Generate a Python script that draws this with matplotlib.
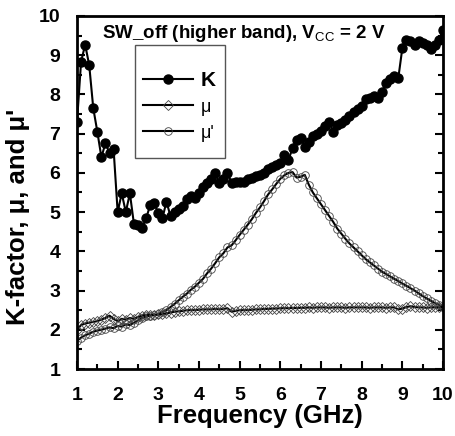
import matplotlib
matplotlib.use("Agg")
import matplotlib.pyplot as plt
from matplotlib.patches import Rectangle
import numpy as np

plt.rcParams['font.family'] = ['Liberation Sans', 'DejaVu Sans']
plt.rcParams['mathtext.fontset'] = 'custom'
plt.rcParams['mathtext.rm'] = 'Liberation Sans'
plt.rcParams['mathtext.bf'] = 'Liberation Sans:bold'
plt.rcParams['mathtext.it'] = 'Liberation Sans:italic'

freq = [round(1.0 + 0.1 * i, 1) for i in range(91)]

k_factor = [
    7.30, 8.83, 9.27, 8.75, 7.65, 7.05, 6.40, 6.76, 6.50, 6.60,
    5.00, 5.48, 5.00, 5.48, 4.70, 4.68, 4.60, 4.84, 5.18, 5.22,
    4.97, 4.84, 5.27, 4.89, 5.01, 5.07, 5.16, 5.33, 5.40, 5.35,
    5.48, 5.65, 5.73, 5.85, 5.99, 5.75, 5.84, 6.00, 5.75, 5.78,
    5.78, 5.78, 5.84, 5.88, 5.91, 5.95, 5.99, 6.09, 6.16, 6.20,
    6.24, 6.46, 6.33, 6.63, 6.85, 6.90, 6.67, 6.80, 6.93, 7.00,
    7.08, 7.20, 7.31, 7.05, 7.22, 7.26, 7.35, 7.45, 7.56, 7.62,
    7.70, 7.88, 7.92, 7.95, 7.90, 8.07, 8.30, 8.40, 8.46, 8.41,
    9.18, 9.39, 9.35, 9.27, 9.35, 9.30, 9.27, 9.15, 9.27, 9.39,
    9.65,
]

mu = [
    2.00, 2.12, 2.16, 2.18, 2.20, 2.22, 2.26, 2.30, 2.36, 2.28,
    2.22, 2.28, 2.26, 2.30, 2.28, 2.32, 2.36, 2.38, 2.38, 2.38,
    2.39, 2.40, 2.42, 2.44, 2.46, 2.47, 2.48, 2.50, 2.50, 2.50,
    2.51, 2.52, 2.52, 2.52, 2.53, 2.52, 2.53, 2.55, 2.46, 2.48,
    2.50, 2.50, 2.50, 2.51, 2.52, 2.52, 2.53, 2.53, 2.54, 2.54,
    2.55, 2.55, 2.55, 2.56, 2.55, 2.56, 2.56, 2.57, 2.56, 2.57,
    2.57, 2.57, 2.56, 2.57, 2.57, 2.57, 2.56, 2.57, 2.57, 2.57,
    2.57, 2.57, 2.56, 2.57, 2.57, 2.57, 2.56, 2.57, 2.57, 2.52,
    2.54, 2.58, 2.60, 2.58, 2.57, 2.57, 2.56, 2.57, 2.57, 2.57,
    2.57,
]

mu_prime = [
    1.72, 1.80, 1.86, 1.90, 1.95, 1.98, 2.00, 2.03, 2.06, 2.04,
    2.10, 2.08, 2.14, 2.12, 2.18, 2.24, 2.30, 2.34, 2.36, 2.37,
    2.40, 2.45, 2.50, 2.58, 2.66, 2.75, 2.84, 2.92, 3.02, 3.10,
    3.20, 3.30, 3.44, 3.56, 3.70, 3.85, 3.95, 4.10, 4.15, 4.28,
    4.42, 4.55, 4.68, 4.82, 4.98, 5.12, 5.28, 5.45, 5.58, 5.72,
    5.85, 5.94, 6.00, 6.02, 5.88, 5.90, 5.95, 5.70, 5.50, 5.35,
    5.20, 5.05, 4.90, 4.75, 4.58, 4.45, 4.32, 4.20, 4.10, 4.00,
    3.90, 3.80, 3.72, 3.64, 3.56, 3.48, 3.42, 3.36, 3.30, 3.24,
    3.18, 3.12, 3.06, 3.00, 2.93, 2.86, 2.80, 2.74, 2.68, 2.63,
    2.58,
]

x_ticks = [1, 2, 3, 4, 5, 6, 7, 8, 9, 10]
y_ticks = [1, 2, 3, 4, 5, 6, 7, 8, 9, 10]

fig = plt.figure(figsize=(4.56, 4.36), dpi=100)
ax = fig.add_axes([77/456, 1-369/436, 366/456, 353/436])

ax.plot(freq, mu_prime, '-', color='black', lw=1.5, marker='o', ms=5.5,
        mfc='none', mec='#444444', mew=0.6, label="\u03bc'", zorder=2)
ax.plot(freq, mu, '-', color='black', lw=1.5, marker='D', ms=5,
        mfc='none', mec='#444444', mew=0.6, label='\u03bc', zorder=2)
ax.plot(freq, k_factor, '-', color='black', lw=1.5, marker='o', ms=6.5,
        mfc='black', mec='black', label='K', zorder=3)

ax.set_xlim(1, 10)
ax.set_ylim(1, 10)
ax.set_xticks(x_ticks)
ax.set_yticks(y_ticks)
ax.set_xticks(np.arange(1.5, 10, 1.0), minor=True)
ax.set_yticks(np.arange(1.5, 10, 1.0), minor=True)
ax.tick_params(which='both', direction='in', top=False, right=True, width=1.5)
ax.tick_params(which='major', length=6, labelsize=14)
ax.tick_params(axis='x', which='major', pad=13)
ax.tick_params(axis='y', which='major', pad=12)
ax.tick_params(which='minor', length=3.5)
for lab in ax.get_xticklabels() + ax.get_yticklabels():
    lab.set_fontweight('bold')
for sp in ax.spines.values():
    sp.set_linewidth(2)

ax.set_xlabel('Frequency (GHz)', fontsize=18.5, fontweight='bold')
ax.set_ylabel("K-factor, \u03bc, and \u03bc'", fontsize=18.5, fontweight='bold')
ax.xaxis.set_label_coords(0.5, -0.098)
ax.yaxis.set_label_coords(-0.128, 0.43)

ax.text(1.62, 9.56, r"SW_off (higher band), V$_{\mathrm{CC}}$ = 2 V",
        fontsize=13.5, fontweight='bold', va='center', ha='left')

# legend frame
ax.add_patch(Rectangle((0.1585, 0.5977), 0.4044 - 0.1585, 0.9178 - 0.5977,
                       transform=ax.transAxes, fill=False, edgecolor='#555555',
                       lw=1.0, zorder=4))
handles, labels = ax.get_legend_handles_labels()
order = [2, 1, 0]
leg = ax.legend([handles[i] for i in order], [labels[i] for i in order],
                loc='upper left', bbox_to_anchor=(0.180, 0.845),
                frameon=False, fontsize=13, handlelength=2.8,
                handletextpad=0.4, labelspacing=0.5, borderpad=0,
                borderaxespad=0)
texts = leg.get_texts()
texts[0].set_fontweight('bold')
texts[0].set_fontsize(15)

fig.savefig('out.png', dpi=100)
